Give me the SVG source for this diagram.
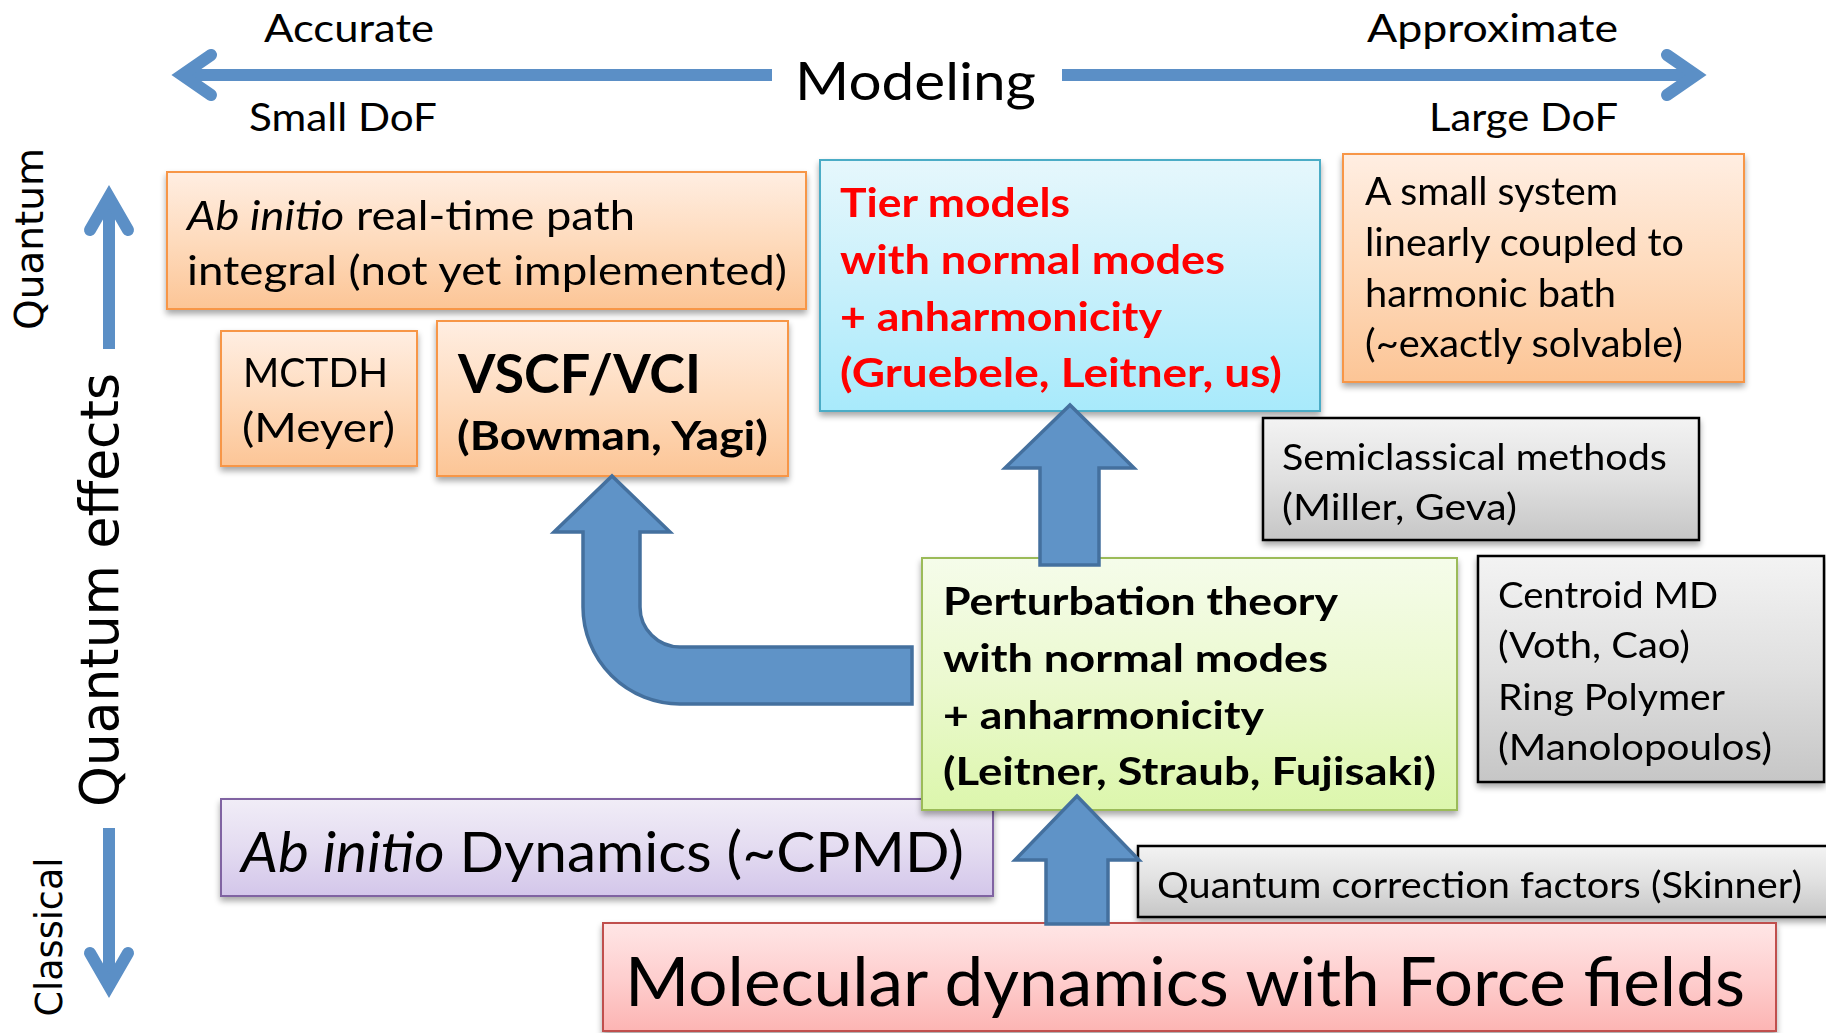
<svg xmlns="http://www.w3.org/2000/svg" width="1826" height="1033" viewBox="0 0 1826 1033">
  <style>
    .t { font-family: Lato, "Liberation Sans", sans-serif; fill: #000; }
    .b { font-weight: bold; }
    .red { fill: #ff0000; }
    .v { font-family: "DejaVu Sans", Verdana, sans-serif; fill: #000; }
    .axis { fill: none; stroke: #5b8fc6; stroke-width: 12; }
    .head { fill: none; stroke: #5b8fc6; stroke-width: 12; stroke-linecap: round; stroke-linejoin: miter; }
    .block { fill: #5f93c7; stroke: #44709e; stroke-width: 3.5; stroke-linejoin: miter; }
    .orange { fill: url(#gOrange); stroke: #f79646; stroke-width: 2; }
    .cyan { fill: url(#gCyan); stroke: #4bacc6; stroke-width: 2; }
    .green { fill: url(#gGreen); stroke: #9bbb59; stroke-width: 2; }
    .purple { fill: url(#gPurple); stroke: #8064a2; stroke-width: 2; }
    .pink { fill: url(#gPink); stroke: #c0504d; stroke-width: 2; }
    .gray { fill: url(#gGray); stroke: #000; stroke-width: 2.5; }
  </style>
  <defs>
    <linearGradient id="gOrange" x1="0" y1="0" x2="0" y2="1">
      <stop offset="0" stop-color="#ffeee2"/>
      <stop offset="0.5" stop-color="#fedbbd"/>
      <stop offset="1" stop-color="#fcc596"/>
    </linearGradient>
    <linearGradient id="gCyan" x1="0" y1="0" x2="0" y2="1">
      <stop offset="0" stop-color="#e6f7fc"/>
      <stop offset="0.5" stop-color="#c8f0fb"/>
      <stop offset="1" stop-color="#a8eafb"/>
    </linearGradient>
    <linearGradient id="gGreen" x1="0" y1="0" x2="0" y2="1">
      <stop offset="0" stop-color="#f5fcea"/>
      <stop offset="0.5" stop-color="#ebf9cf"/>
      <stop offset="1" stop-color="#dcf6ac"/>
    </linearGradient>
    <linearGradient id="gPurple" x1="0" y1="0" x2="0" y2="1">
      <stop offset="0" stop-color="#f1edf7"/>
      <stop offset="0.5" stop-color="#e4dcf1"/>
      <stop offset="1" stop-color="#d3c6ea"/>
    </linearGradient>
    <linearGradient id="gPink" x1="0" y1="0" x2="0" y2="1">
      <stop offset="0" stop-color="#ffe6e6"/>
      <stop offset="0.5" stop-color="#fecfcf"/>
      <stop offset="1" stop-color="#fcb4b3"/>
    </linearGradient>
    <linearGradient id="gGray" x1="0" y1="0" x2="0" y2="1">
      <stop offset="0" stop-color="#f3f3f3"/>
      <stop offset="0.5" stop-color="#e0e0e0"/>
      <stop offset="1" stop-color="#c6c6c6"/>
    </linearGradient>
    <filter id="shadow" x="-5%" y="-10%" width="110%" height="130%">
      <feGaussianBlur in="SourceAlpha" stdDeviation="3"/>
      <feOffset dx="0" dy="4" result="o"/>
      <feComponentTransfer><feFuncA type="linear" slope="0.35"/></feComponentTransfer>
      <feMerge><feMergeNode/><feMergeNode in="SourceGraphic"/></feMerge>
    </filter>
  </defs>

  <rect width="1826" height="1033" fill="#ffffff"/>

  <!-- axis labels -->
  <g id="axis-labels">
    <text class="t" x="264" y="42" font-size="38" textLength="170" lengthAdjust="spacingAndGlyphs">Accurate</text>
    <text class="t" x="249" y="131" font-size="38" textLength="188" lengthAdjust="spacingAndGlyphs">Small DoF</text>
    <text class="t" x="795" y="100" font-size="52" textLength="241" lengthAdjust="spacingAndGlyphs">Modeling</text>
    <text class="t" x="1367" y="42" font-size="38" textLength="251" lengthAdjust="spacingAndGlyphs">Approximate</text>
    <text class="t" x="1429" y="131" font-size="38" textLength="189" lengthAdjust="spacingAndGlyphs">Large DoF</text>
    <text class="v" transform="translate(43,239) rotate(-90)" text-anchor="middle" font-size="39" textLength="182" lengthAdjust="spacingAndGlyphs">Quantum</text>
    <text class="v" transform="translate(118,590) rotate(-90)" text-anchor="middle" font-size="53" textLength="434" lengthAdjust="spacingAndGlyphs">Quantum effects</text>
    <text class="v" transform="translate(62,937) rotate(-90)" text-anchor="middle" font-size="37" textLength="159" lengthAdjust="spacingAndGlyphs">Classical</text>
  </g>

  <!-- method boxes -->
  <g id="n-path-integral" filter="url(#shadow)">
    <rect class="orange" x="167" y="172" width="639" height="137"/>
    <text class="t" x="187" y="230" font-size="41" textLength="448" lengthAdjust="spacingAndGlyphs"><tspan font-style="italic">Ab initio</tspan> real-time path</text>
    <text class="t" x="187" y="285" font-size="41" textLength="600" lengthAdjust="spacingAndGlyphs">integral (not yet implemented)</text>
  </g>

  <g id="n-mctdh" filter="url(#shadow)">
    <rect class="orange" x="221" y="331" width="196" height="135"/>
    <text class="t" x="243" y="387" font-size="40" textLength="145" lengthAdjust="spacingAndGlyphs">MCTDH</text>
    <text class="t" x="242" y="442" font-size="40" textLength="153" lengthAdjust="spacingAndGlyphs">(Meyer)</text>
  </g>

  <g id="n-vscf" filter="url(#shadow)">
    <rect class="orange" x="437" y="321" width="351" height="155"/>
    <text class="t b" x="458" y="393" font-size="53" textLength="243" lengthAdjust="spacingAndGlyphs">VSCF/VCI</text>
    <text class="t b" x="457" y="450" font-size="40" textLength="311" lengthAdjust="spacingAndGlyphs">(Bowman, Yagi)</text>
  </g>

  <g id="n-tier" filter="url(#shadow)">
    <rect class="cyan" x="820" y="160" width="500" height="251"/>
    <text class="t b red" x="840" y="217" font-size="41" textLength="230" lengthAdjust="spacingAndGlyphs">Tier models</text>
    <text class="t b red" x="840" y="274" font-size="41" textLength="385" lengthAdjust="spacingAndGlyphs">with normal modes</text>
    <text class="t b red" x="840" y="331" font-size="41" textLength="322" lengthAdjust="spacingAndGlyphs">+ anharmonicity</text>
    <text class="t b red" x="840" y="387" font-size="41" textLength="442" lengthAdjust="spacingAndGlyphs">(Gruebele, Leitner, us)</text>
  </g>

  <g id="n-small-system" filter="url(#shadow)">
    <rect class="orange" x="1343" y="154" width="401" height="228"/>
    <text class="t" x="1365" y="205" font-size="38" textLength="253" lengthAdjust="spacingAndGlyphs">A small system</text>
    <text class="t" x="1365" y="256" font-size="38" textLength="319" lengthAdjust="spacingAndGlyphs">linearly coupled to</text>
    <text class="t" x="1365" y="307" font-size="38" textLength="251" lengthAdjust="spacingAndGlyphs">harmonic bath</text>
    <text class="t" x="1365" y="357" font-size="38" textLength="318" lengthAdjust="spacingAndGlyphs">(~exactly solvable)</text>
  </g>

  <g id="n-semiclassical" filter="url(#shadow)">
    <rect class="gray" x="1263" y="418" width="436" height="122"/>
    <text class="t" x="1282" y="470" font-size="37" textLength="385" lengthAdjust="spacingAndGlyphs">Semiclassical methods</text>
    <text class="t" x="1282" y="520" font-size="37" textLength="235" lengthAdjust="spacingAndGlyphs">(Miller, Geva)</text>
  </g>

  <g id="n-centroid" filter="url(#shadow)">
    <rect class="gray" x="1478" y="556" width="346" height="226"/>
    <text class="t" x="1498" y="608" font-size="37" textLength="220" lengthAdjust="spacingAndGlyphs">Centroid MD</text>
    <text class="t" x="1498" y="658" font-size="37" textLength="192" lengthAdjust="spacingAndGlyphs">(Voth, Cao)</text>
    <text class="t" x="1498" y="710" font-size="37" textLength="227" lengthAdjust="spacingAndGlyphs">Ring Polymer</text>
    <text class="t" x="1498" y="760" font-size="37" textLength="274" lengthAdjust="spacingAndGlyphs">(Manolopoulos)</text>
  </g>

  <g id="n-abinitio-dynamics" filter="url(#shadow)">
    <rect class="purple" x="221" y="799" width="772" height="97"/>
    <text class="t" x="241" y="872" font-size="56" textLength="723" lengthAdjust="spacingAndGlyphs"><tspan font-style="italic">Ab initio</tspan> Dynamics (~CPMD)</text>
  </g>

  <g id="n-perturbation" filter="url(#shadow)">
    <rect class="green" x="922" y="558" width="535" height="252"/>
    <text class="t b" x="943" y="615" font-size="39" textLength="395" lengthAdjust="spacingAndGlyphs">Perturbation theory</text>
    <text class="t b" x="943" y="672" font-size="39" textLength="385" lengthAdjust="spacingAndGlyphs">with normal modes</text>
    <text class="t b" x="943" y="729" font-size="39" textLength="321" lengthAdjust="spacingAndGlyphs">+ anharmonicity</text>
    <text class="t b" x="943" y="785" font-size="39" textLength="493" lengthAdjust="spacingAndGlyphs">(Leitner, Straub, Fujisaki)</text>
  </g>

  <g id="n-quantum-correction" filter="url(#shadow)">
    <rect class="gray" x="1138" y="846" width="700" height="71"/>
    <text class="t" x="1157" y="898" font-size="36" textLength="645" lengthAdjust="spacingAndGlyphs">Quantum correction factors (Skinner)</text>
  </g>

  <g id="n-force-field-md" filter="url(#shadow)">
    <rect class="pink" x="603" y="923" width="1173" height="108"/>
    <text class="t" x="625" y="1006" font-size="67" textLength="1120" lengthAdjust="spacingAndGlyphs">Molecular dynamics with Force fields</text>
  </g>

  <!-- arrows -->
  <g id="connectors">
    <!-- modeling axis -->
    <line class="axis" x1="772" y1="75" x2="184" y2="75"/>
    <polyline class="head" points="211,55 182,75 211,95"/>
    <line class="axis" x1="1062" y1="75" x2="1694" y2="75"/>
    <polyline class="head" points="1667,55 1696,75 1667,95"/>
    <!-- quantum effects axis -->
    <line class="axis" x1="109" y1="349" x2="109" y2="199"/>
    <polyline class="head" points="90,230 109,197 128,230"/>
    <line class="axis" x1="109" y1="828" x2="109" y2="988"/>
    <polyline class="head" points="90,953 109,986 128,953"/>
    <!-- perturbation theory to VSCF/VCI -->
    <path class="block" d="M912,647 L680,647 A40,40 0 0 1 640,607 L640,532 L670,532 L612,476 L554,532 L583,532 L583,607 A97,97 0 0 0 680,704 L912,704 Z"/>
    <!-- perturbation theory to tier models -->
    <polygon class="block" points="1040,565 1040,468 1005,468 1070,405 1134,468 1099,468 1099,565"/>
    <!-- force-field MD to perturbation theory -->
    <polygon class="block" points="1046,924 1046,860 1015,860 1077,796 1139,860 1108,860 1108,924"/>
  </g>
</svg>
